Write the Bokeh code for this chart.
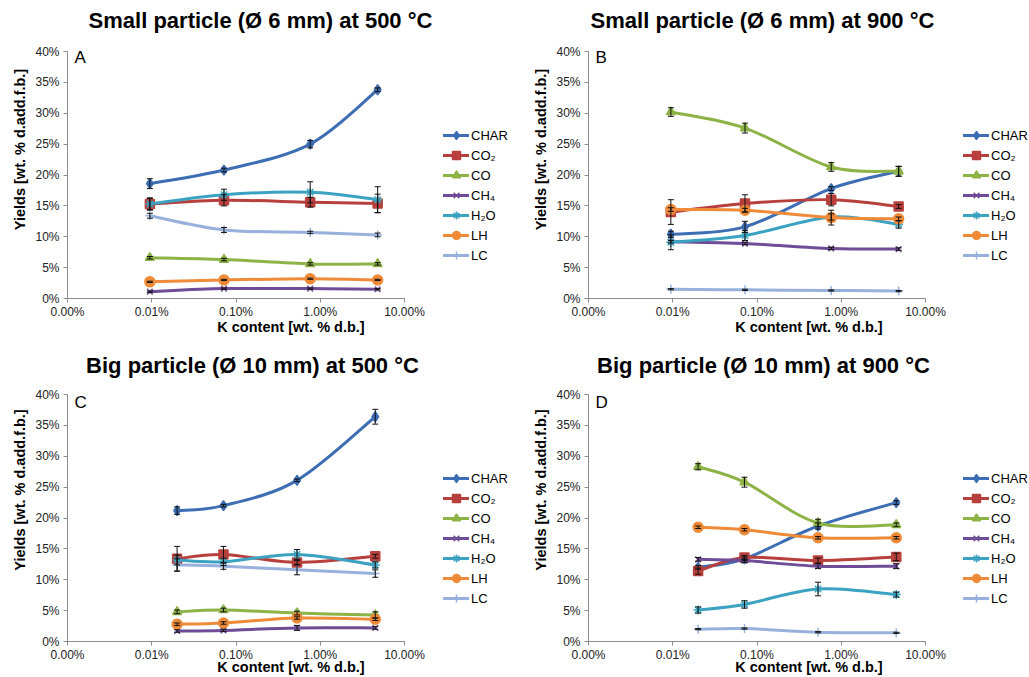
import numpy as np
from bokeh.plotting import figure
from bokeh.layouts import column, row
from bokeh.models import (Range1d, FixedTicker, CustomJSTickFormatter, PrintfTickFormatter,
                          Label, Legend, LegendItem, ColumnDataSource, Whisker, TeeHead)
from bokeh.embed import file_html
from bokeh.resources import INLINE

# ---------------- data ----------------
series_names = ["CHAR", "CO2", "CO", "CH4", "H2O", "LH", "LC"]
legend_labels = ["CHAR", "CO₂", "CO", "CH₄", "H₂O", "LH", "LC"]

k_small = [0.0095, 0.072, 0.76, 4.8]   # K content [wt. % d.b.], 6 mm particles
k_big = [0.020, 0.071, 0.53, 4.5]      # K content [wt. % d.b.], 10 mm particles

# Panel A: small particle, 500 °C
a_char = [18.6, 20.8, 25.0, 33.8]
a_co2 = [15.3, 15.9, 15.6, 15.4]
a_co = [6.6, 6.3, 5.6, 5.6]
a_ch4 = [1.1, 1.6, 1.6, 1.5]
a_h2o = [15.3, 16.8, 17.2, 16.0]
a_lh = [2.7, 3.0, 3.2, 3.0]
a_lc = [13.4, 11.1, 10.7, 10.3]
a_char_err = [0.8, 0.3, 0.6, 0.3]
a_co2_err = [1.0, 0.9, 0.8, 1.5]
a_co_err = [0.2, 0.2, 0.2, 0.2]
a_ch4_err = [0.1, 0.1, 0.1, 0.1]
a_h2o_err = [0.9, 0.9, 1.7, 2.1]
a_lh_err = [0.1, 0.1, 0.1, 0.1]
a_lc_err = [0.4, 0.4, 0.2, 0.3]

# Panel B: small particle, 900 °C
b_char = [10.4, 11.6, 17.8, 20.6]
b_co2 = [14.0, 15.4, 16.0, 14.9]
b_co = [30.2, 27.6, 21.3, 20.6]
b_ch4 = [9.2, 8.9, 8.1, 8.0]
b_h2o = [9.1, 10.2, 13.2, 12.0]
b_lh = [14.4, 14.3, 13.1, 12.9]
b_lc = [1.5, 1.4, 1.3, 1.2]
b_char_err = [0.5, 0.9, 0.3, 0.8]
b_co2_err = [2.0, 1.4, 1.0, 0.3]
b_co_err = [0.7, 0.8, 0.7, 0.8]
b_ch4_err = [0.2, 0.2, 0.2, 0.2]
b_h2o_err = [1.2, 0.8, 0.5, 0.6]
b_lh_err = [0.3, 0.3, 1.2, 0.3]
b_lc_err = [0.1, 0.1, 0.1, 0.1]

# Panel C: big particle, 500 °C
c_char = [21.2, 22.0, 26.1, 36.4]
c_co2 = [13.4, 14.1, 12.8, 13.8]
c_co = [4.8, 5.1, 4.6, 4.3]
c_ch4 = [1.7, 1.8, 2.2, 2.2]
c_h2o = [13.2, 12.9, 14.1, 12.4]
c_lh = [2.8, 3.0, 3.8, 3.6]
c_lc = [12.4, 12.2, 11.6, 11.0]
c_char_err = [0.6, 0.2, 0.2, 1.2]
c_co2_err = [2.0, 1.3, 0.3, 0.3]
c_co_err = [0.3, 0.3, 0.3, 0.5]
c_ch4_err = [0.2, 0.2, 0.4, 0.2]
c_h2o_err = [0.8, 0.6, 0.8, 0.5]
c_lh_err = [0.2, 0.2, 0.2, 0.2]
c_lc_err = [1.0, 0.5, 0.8, 0.6]

# Panel D: big particle, 900 °C
d_char = [12.0, 13.4, 18.7, 22.5]
d_co2 = [11.4, 13.6, 13.1, 13.7]
d_co = [28.3, 25.8, 19.2, 18.9]
d_ch4 = [13.3, 13.1, 12.2, 12.2]
d_h2o = [5.1, 6.0, 8.5, 7.6]
d_lh = [18.5, 18.1, 16.8, 16.8]
d_lc = [2.0, 2.1, 1.5, 1.4]
d_char_err = [0.3, 0.3, 0.5, 0.3]
d_co2_err = [0.5, 0.3, 0.4, 0.6]
d_co_err = [0.5, 0.8, 0.6, 0.3]
d_ch4_err = [0.3, 0.3, 0.4, 0.4]
d_h2o_err = [0.5, 0.6, 1.1, 0.4]
d_lh_err = [0.2, 0.2, 0.2, 0.2]
d_lc_err = [0.1, 0.1, 0.1, 0.1]

titles = ["Small particle (Ø 6 mm) at 500 °C", "Small particle (Ø 6 mm) at 900 °C",
          "Big particle (Ø 10 mm) at 500 °C", "Big particle (Ø 10 mm) at 900 °C"]
panel_letters = ["A", "B", "C", "D"]
x_ticks = [0.001, 0.01, 0.1, 1, 10]
y_ticks = [0, 5, 10, 15, 20, 25, 30, 35, 40]
x_min, x_max = 0.001, 10
y_min, y_max = 0, 40

# ---------------- style ----------------
FONT = "Liberation Sans"
colors = ["#3D6DB3", "#B7403D", "#8DB245", "#6E4C98", "#3BA3C1", "#EE8A38", "#97B1DC"]
markers = ["diamond", "square", "triangle", "x", "asterisk", "circle", "cross"]
msizes = [10, 9, 9, 8, 9, 10, 9]
AXIS_W = 337  # pixel length of the drawn x axis (0.001 % .. 10 %)
AXIS_H = 247  # pixel length of the drawn y axis (0 % .. 40 %)


def smooth(xs, ys):
    lx = np.log10(np.asarray(xs, dtype=float))
    y = np.asarray(ys, dtype=float)
    n = len(lx)
    out = dict(x0=[], y0=[], x1=[], y1=[], cx0=[], cy0=[], cx1=[], cy1=[])
    for i in range(n - 1):
        pm = i - 1 if i > 0 else i
        pp = i + 2 if i + 2 < n else i + 1
        out["x0"].append(10 ** lx[i]); out["y0"].append(y[i])
        out["x1"].append(10 ** lx[i + 1]); out["y1"].append(y[i + 1])
        out["cx0"].append(10 ** (lx[i] + (lx[i + 1] - lx[pm]) / 6))
        out["cy0"].append(y[i] + (y[i + 1] - y[pm]) / 6)
        out["cx1"].append(10 ** (lx[i + 1] - (lx[pp] - lx[i]) / 6))
        out["cy1"].append(y[i + 1] - (y[pp] - y[i]) / 6)
    return out


def make_panel(idx, k, values, errs, width, height, bl, bb, xlab_standoff,
               title_pos, letter_y, legend_loc):
    frame_w = width - bl
    frame_h = height - bb
    decades = np.log10(x_max / x_min)
    x_end = x_min * 10 ** (decades * frame_w / AXIS_W)
    y_end = y_min + (y_max - y_min) * frame_h / AXIS_H
    p = figure(width=width, height=height, x_axis_type="log",
               x_range=Range1d(x_min, x_end), y_range=Range1d(y_min, y_end),
               output_backend="svg", toolbar_location=None,
               min_border_left=bl, min_border_top=0, min_border_right=0,
               min_border_bottom=bb)
    p.outline_line_color = None
    p.xgrid.visible = False
    p.ygrid.visible = False
    p.background_fill_color = "white"

    # axes
    p.xaxis.ticker = FixedTicker(ticks=x_ticks)
    p.xaxis.bounds = (x_min, x_max)
    p.xaxis.formatter = CustomJSTickFormatter(code="return tick.toFixed(2) + '%';")
    p.yaxis.ticker = FixedTicker(ticks=y_ticks)
    p.yaxis.bounds = (y_min, y_max)
    p.yaxis.formatter = PrintfTickFormatter(format="%d%%")
    for ax in (p.xaxis[0], p.yaxis[0]):
        ax.axis_line_color = "#8C8C8C"
        ax.axis_line_width = 1
        ax.major_tick_line_color = "#8C8C8C"
        ax.major_tick_in = 0
        ax.major_tick_out = 4
        ax.minor_tick_line_color = None
        ax.major_label_text_font = FONT
        ax.major_label_text_font_size = "12px"
        ax.major_label_text_color = "#222222"
        ax.axis_label_text_font = FONT
        ax.axis_label_text_font_size = "14.5px"
        ax.axis_label_text_font_style = "bold"
        ax.axis_label_text_color = "black"
    p.xaxis.axis_label = "K content [wt. % d.b.]"
    p.yaxis.axis_label = "Yields [wt. % d.add.f.b.]"
    p.xaxis.major_label_standoff = 2
    p.xaxis.axis_label_standoff = xlab_standoff
    p.yaxis.major_label_standoff = 4
    p.yaxis.axis_label_standoff = 4

    items = []
    for s in range(len(series_names)):
        col = colors[s]
        seg = ColumnDataSource(smooth(k, values[s]))
        r_line = p.bezier(x0="x0", y0="y0", x1="x1", y1="y1", cx0="cx0", cy0="cy0",
                          cx1="cx1", cy1="cy1", source=seg, line_color=col,
                          line_width=3, line_cap="round")
        up = [v + e for v, e in zip(values[s], errs[s])]
        lo = [v - e for v, e in zip(values[s], errs[s])]
        wsrc = ColumnDataSource(dict(base=k, upper=up, lower=lo))
        w = Whisker(source=wsrc, base="base", upper="upper", lower="lower",
                    dimension="height", line_color="#111111", line_width=1,
                    upper_head=TeeHead(size=6, line_color="#111111", line_width=1),
                    lower_head=TeeHead(size=6, line_color="#111111", line_width=1),
                    level="glyph")
        p.add_layout(w)
        r_mk = p.scatter(k, values[s], marker=markers[s], size=msizes[s],
                         fill_color=col, line_color=col, line_width=1.5)
        items.append(LegendItem(label=legend_labels[s], renderers=[r_line, r_mk]))

    legend = Legend(items=items, location=legend_loc, padding=0, spacing=0,
                    margin=0, label_height=20, glyph_height=20, glyph_width=26,
                    label_standoff=2, border_line_color=None,
                    background_fill_alpha=0, label_text_font=FONT,
                    label_text_font_size="13px", label_text_color="black")
    p.add_layout(legend)

    p.add_layout(Label(x=title_pos[0], y=title_pos[1], x_units="screen", y_units="screen",
                       text=titles[idx], text_font=FONT, text_font_size="22px",
                       text_font_style="bold", text_align="center",
                       text_baseline="middle", text_color="black"))
    p.add_layout(Label(x=7, y=letter_y, x_units="screen", y_units="screen",
                       text=panel_letters[idx], text_font=FONT,
                       text_font_size="17px", text_align="left",
                       text_baseline="middle", text_color="black"))
    return p


vals_a = [a_char, a_co2, a_co, a_ch4, a_h2o, a_lh, a_lc]
errs_a = [a_char_err, a_co2_err, a_co_err, a_ch4_err, a_h2o_err, a_lh_err, a_lc_err]
vals_b = [b_char, b_co2, b_co, b_ch4, b_h2o, b_lh, b_lc]
errs_b = [b_char_err, b_co2_err, b_co_err, b_ch4_err, b_h2o_err, b_lh_err, b_lc_err]
vals_c = [c_char, c_co2, c_co, c_ch4, c_h2o, c_lh, c_lc]
errs_c = [c_char_err, c_co2_err, c_co_err, c_ch4_err, c_h2o_err, c_lh_err, c_lc_err]
vals_d = [d_char, d_co2, d_co, d_ch4, d_h2o, d_lh, d_lc]
errs_d = [d_char_err, d_co2_err, d_co_err, d_ch4_err, d_h2o_err, d_lh_err, d_lc_err]

pA = make_panel(0, k_small, vals_a, errs_a, 514, 338, 67, 40, -3, (193, 278), 241, (376, 33))
pB = make_panel(1, k_small, vals_b, errs_b, 515, 338, 74, 40, -3, (174, 278), 241, (375, 33))
pC = make_panel(2, k_big, vals_c, errs_c, 514, 339, 67, 36, -6, (185, 276), 239, (376, 33))
pD = make_panel(3, k_big, vals_d, errs_d, 515, 339, 74, 36, -6, (175, 276), 239, (375, 33))

layout = column(row(pA, pB), row(pC, pD))
open("out.html", "w").write(file_html(layout, INLINE))
